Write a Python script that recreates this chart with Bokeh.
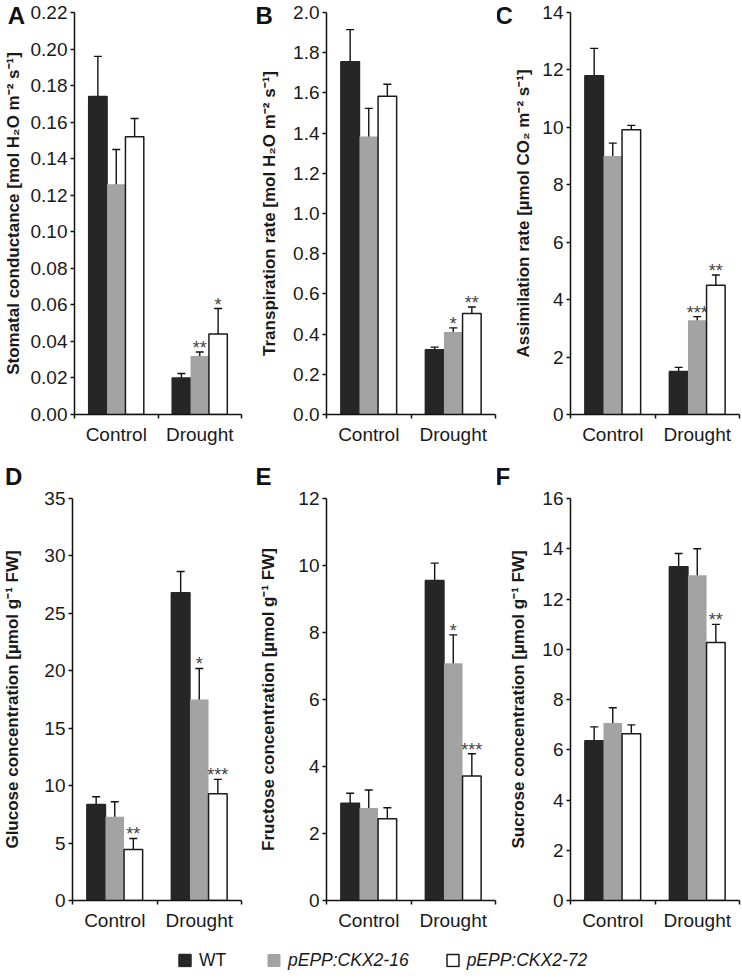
from bokeh.plotting import figure
from bokeh.models import (Range1d, FixedTicker, SingleIntervalTicker, NumeralTickFormatter,
                          ColumnDataSource, Whisker, TeeHead, Legend, LegendItem)
from bokeh.layouts import column, row
from bokeh.embed import file_html
from bokeh.resources import INLINE
from bokeh.core.properties import value

# ---------------- data ----------------
groups = ["Control", "Drought"]
lines = ["WT", "pEPP:CKX2-16", "pEPP:CKX2-72"]

# A  stomatal conductance
stom_mean = {"WT": [0.174, 0.020], "pEPP:CKX2-16": [0.126, 0.032], "pEPP:CKX2-72": [0.152, 0.044]}
stom_err = {"WT": [0.022, 0.0024], "pEPP:CKX2-16": [0.019, 0.0022], "pEPP:CKX2-72": [0.010, 0.014]}
stom_sig = {"WT": ["", ""], "pEPP:CKX2-16": ["", "**"], "pEPP:CKX2-72": ["", "*"]}

# B  transpiration rate
trans_mean = {"WT": [1.755, 0.322], "pEPP:CKX2-16": [1.383, 0.410], "pEPP:CKX2-72": [1.583, 0.502]}
trans_err = {"WT": [0.160, 0.013], "pEPP:CKX2-16": [0.140, 0.021], "pEPP:CKX2-72": [0.060, 0.033]}
trans_sig = {"WT": ["", ""], "pEPP:CKX2-16": ["", "*"], "pEPP:CKX2-72": ["", "**"]}

# C  assimilation rate
assim_mean = {"WT": [11.8, 1.50], "pEPP:CKX2-16": [9.0, 3.28], "pEPP:CKX2-72": [9.92, 4.50]}
assim_err = {"WT": [0.95, 0.14], "pEPP:CKX2-16": [0.45, 0.13], "pEPP:CKX2-72": [0.15, 0.36]}
assim_sig = {"WT": ["", ""], "pEPP:CKX2-16": ["", "***"], "pEPP:CKX2-72": ["", "**"]}

# D  glucose
gluc_mean = {"WT": [8.35, 26.8], "pEPP:CKX2-16": [7.3, 17.5], "pEPP:CKX2-72": [4.45, 9.3]}
gluc_err = {"WT": [0.68, 1.85], "pEPP:CKX2-16": [1.3, 2.7], "pEPP:CKX2-72": [0.95, 1.25]}
gluc_sig = {"WT": ["", ""], "pEPP:CKX2-16": ["", "*"], "pEPP:CKX2-72": ["**", "***"]}

# E  fructose
fruc_mean = {"WT": [2.90, 9.55], "pEPP:CKX2-16": [2.76, 7.08], "pEPP:CKX2-72": [2.44, 3.72]}
fruc_err = {"WT": [0.30, 0.52], "pEPP:CKX2-16": [0.54, 0.85], "pEPP:CKX2-72": [0.33, 0.66]}
fruc_sig = {"WT": ["", ""], "pEPP:CKX2-16": ["", "*"], "pEPP:CKX2-72": ["", "***"]}

# F  sucrose
sucr_mean = {"WT": [6.36, 13.28], "pEPP:CKX2-16": [7.06, 12.95], "pEPP:CKX2-72": [6.64, 10.27]}
sucr_err = {"WT": [0.55, 0.53], "pEPP:CKX2-16": [0.61, 1.05], "pEPP:CKX2-72": [0.35, 0.72]}
sucr_sig = {"WT": ["", ""], "pEPP:CKX2-16": ["", ""], "pEPP:CKX2-72": ["", "**"]}

panels = [
    ("A", "Stomatal conductance [mol H\u2082O m\u207b\u00b2 s\u207b\u00b9]", 0.22, 0.02, "0.00", stom_mean, stom_err, stom_sig),
    ("B", "Transpiration rate [mol H\u2082O m\u207b\u00b2 s\u207b\u00b9]", 2.0, 0.2, "0.0", trans_mean, trans_err, trans_sig),
    ("C", "Assimilation rate [\u00b5mol CO\u2082 m\u207b\u00b2 s\u207b\u00b9]", 14, 2, "0", assim_mean, assim_err, assim_sig),
    ("D", "Glucose concentration [\u00b5mol g\u207b\u00b9 FW]", 35, 5, "0", gluc_mean, gluc_err, gluc_sig),
    ("E", "Fructose concentration [\u00b5mol g\u207b\u00b9 FW]", 12, 2, "0", fruc_mean, fruc_err, fruc_sig),
    ("F", "Sucrose concentration [\u00b5mol g\u207b\u00b9 FW]", 16, 2, "0", sucr_mean, sucr_err, sucr_sig),
]

# ---------------- style ----------------
FONT = "Liberation Sans"
fills = {"WT": "#262626", "pEPP:CKX2-16": "#a3a3a3", "pEPP:CKX2-72": "#ffffff"}
outlines = {"WT": "#262626", "pEPP:CKX2-16": None, "pEPP:CKX2-72": "#1a1a1a"}
BAR_W = 0.22

# geometry per column: (width, border_left, border_right, letter_x_px, label_standoff)
col_geom = [(246, 71, 5, -68, 5), (251, 80, 2, -71, 11), (244, 73, 2, -75, 6)]
col_geom2 = [(246, 71, 5, -68, 19), (251, 80, 2, -71, 17), (244, 73, 2, -75, 11)]
# height, border top, border bottom, letter top offset above frame (px)
row_geom = [(462, 12, 48, 11), (471, 36, 32, 36)]


def make_panel(idx, letter, ylabel, ymax, ystep, fmt, means, errs, sigs):
    r = idx // 3
    c = idx % 3
    w, bl, br, lx, std = (col_geom if r == 0 else col_geom2)[c]
    h, bt, bb, ltop = row_geom[r]
    fw = w - bl - br
    fh = h - bt - bb
    p = figure(width=w, height=h, x_range=Range1d(0, len(groups)), y_range=Range1d(0, ymax),
               output_backend="svg", toolbar_location=None, tools="")
    p.min_border_left = bl
    p.min_border_right = br
    p.min_border_top = bt
    p.min_border_bottom = bb
    p.outline_line_color = None
    p.xgrid.visible = False
    p.ygrid.visible = False
    p.background_fill_color = None
    p.border_fill_color = None

    for k, ln in enumerate(lines):
        off = (k - 1) * BAR_W
        xs = [i + 0.5 + off for i in range(len(groups))]
        m = means[ln]
        e = errs[ln]
        src = ColumnDataSource(dict(x=xs, top=m,
                                    upper=[a + b for a, b in zip(m, e)],
                                    lower=[a - b for a, b in zip(m, e)],
                                    sig=sigs[ln]))
        lc = outlines[ln]
        p.vbar(x="x", top="top", width=BAR_W, source=src, fill_color=fills[ln],
               line_color=lc, line_width=1.5 if lc else 0)
        wk = Whisker(source=src, base="x", upper="upper", lower="lower", dimension="height",
                     line_color="#111111", line_width=1.4,
                     upper_head=TeeHead(size=8, line_color="#111111", line_width=1.4),
                     lower_head=TeeHead(size=8, line_color="#111111", line_width=1.4))
        p.add_layout(wk)
        p.text(x="x", y="upper", text="sig", source=src, text_align="center",
               text_baseline="alphabetic", y_offset=-4, text_font=value(FONT),
               text_font_size="18px", text_color="#444444")

    # x axis: labels at group centres, ticks at group boundaries
    xa = p.xaxis[0]
    xa.ticker = FixedTicker(ticks=[i + 0.5 for i in range(len(groups))],
                            minor_ticks=[i for i in range(len(groups) + 1)])
    xa.major_label_overrides = {i + 0.5: g for i, g in enumerate(groups)}
    xa.major_tick_out = 0
    xa.major_tick_in = 0
    xa.minor_tick_out = 4
    xa.minor_tick_in = 0
    xa.minor_tick_line_width = 1.5
    xa.axis_line_width = 1.5
    xa.axis_line_color = "#111111"
    xa.minor_tick_line_color = "#111111"
    xa.major_label_text_font = FONT
    xa.major_label_text_font_size = "19px"
    xa.major_label_text_color = "#1a1a1a"
    xa.major_label_standoff = 5

    ya = p.yaxis[0]
    ya.ticker = SingleIntervalTicker(interval=ystep, num_minor_ticks=0)
    ya.formatter = NumeralTickFormatter(format=fmt)
    ya.major_tick_out = 4
    ya.major_tick_in = 0
    ya.minor_tick_out = 0
    ya.minor_tick_in = 0
    ya.major_tick_line_width = 1.5
    ya.axis_line_width = 1.5
    ya.axis_line_color = "#111111"
    ya.major_tick_line_color = "#111111"
    ya.major_label_text_font = FONT
    ya.major_label_text_font_size = "19px"
    ya.major_label_text_color = "#1a1a1a"
    ya.major_label_standoff = 3
    ya.axis_label = ylabel
    ya.axis_label_text_font = FONT
    ya.axis_label_text_font_style = "bold"
    ya.axis_label_text_font_size = "17px"
    ya.axis_label_text_color = "#1a1a1a"
    ya.axis_label_standoff = std

    # panel letter, through the data scales just outside the frame (unclipped level)
    p.text(x=[lx * len(groups) / fw], y=[ymax * (1 + ltop / fh)], text=[letter],
           text_font=value(FONT), text_font_size="24px", text_font_style="bold",
           text_baseline="top", text_align="left", text_color="#111111", level="overlay")
    return p


figs = [make_panel(i, *pa) for i, pa in enumerate(panels)]

# ---------------- legend ----------------
def legend_fig(width, left, items, italic):
    lf = figure(width=width, height=42, x_range=Range1d(0, 1), y_range=Range1d(0, 1),
                output_backend="svg", toolbar_location=None, tools="",
                x_axis_location=None, y_axis_location=None)
    lf.min_border_left = left
    lf.min_border_right = 0
    lf.min_border_top = 12
    lf.min_border_bottom = 0
    lf.outline_line_color = None
    lf.background_fill_color = None
    lf.border_fill_color = None
    lf.xgrid.visible = False
    lf.ygrid.visible = False
    its = []
    for ln in items:
        lc = outlines[ln]
        rr = lf.vbar(x=[0.5], top=[1], width=0.1, fill_color=fills[ln],
                     line_color=lc if lc else fills[ln], line_width=1.5 if lc else 1,
                     visible=False)
        its.append(LegendItem(label=ln, renderers=[rr]))
    lg = Legend(items=its, location="left", orientation="horizontal")
    lg.glyph_width = 15
    lg.glyph_height = 15
    lg.label_standoff = 7
    lg.padding = 0
    lg.margin = 0
    lg.spacing = 36
    lg.border_line_color = None
    lg.background_fill_alpha = 0
    lg.label_text_font = FONT
    lg.label_text_font_size = "17.5px"
    lg.label_text_color = "#1a1a1a"
    if italic:
        lg.label_text_font_style = "italic"
    lf.add_layout(lg)
    return lf


lf1 = legend_fig(266, 177, lines[:1], False)
lf2 = legend_fig(475, 0, lines[1:], True)

layout = column(row(*figs[:3], spacing=0), row(*figs[3:], spacing=0),
                row(lf1, lf2, spacing=0), spacing=0)

open("out.html", "w").write(file_html(layout, INLINE))
